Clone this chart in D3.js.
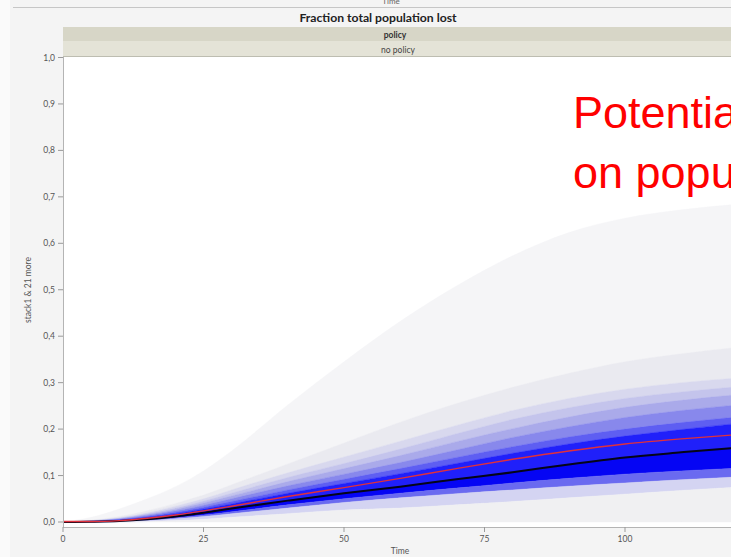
<!DOCTYPE html>
<html>
<head>
<meta charset="utf-8">
<script src="https://cdn.jsdelivr.net/npm/d3@7"></script>
<style>
  html, body { margin: 0; padding: 0; background: #f4f4f4; }
  svg { display: block; }
  text { font-family: Lato, "Open Sans", sans-serif; }
</style>
</head>
<body>
<svg id="chart" width="731" height="557"></svg>
<script>
// Simulation time points (shared by every percentile curve)
const times = [0, 5, 10, 15, 20, 25, 30, 40, 50, 60, 70, 80, 90, 100, 110, 120, 130];

// Fraction of total population lost: percentile envelopes, outermost first
const pMax = [0, 0.010, 0.028, 0.050, 0.076, 0.110, 0.153, 0.252, 0.345, 0.432, 0.508, 0.573, 0.623, 0.654, 0.672, 0.684, 0.690];
const pU2  = [0, 0.004, 0.012, 0.024, 0.040, 0.058, 0.080, 0.125, 0.170, 0.215, 0.255, 0.290, 0.320, 0.345, 0.362, 0.376, 0.385];
const pU3  = [0, 0.003, 0.009, 0.020, 0.034, 0.050, 0.069, 0.106, 0.140, 0.174, 0.208, 0.240, 0.266, 0.286, 0.300, 0.310, 0.317];
const pU4  = [0, 0.0025, 0.008, 0.018, 0.030, 0.045, 0.062, 0.096, 0.126, 0.157, 0.190, 0.221, 0.246, 0.266, 0.280, 0.291, 0.299];
const pU5  = [0, 0.002, 0.007, 0.016, 0.027, 0.041, 0.056, 0.087, 0.115, 0.143, 0.173, 0.201, 0.226, 0.247, 0.262, 0.274, 0.283];
const pU6  = [0, 0.002, 0.006, 0.014, 0.024, 0.036, 0.050, 0.078, 0.103, 0.128, 0.155, 0.182, 0.205, 0.225, 0.240, 0.252, 0.262];
const pU7  = [0, 0.0015, 0.005, 0.012, 0.021, 0.032, 0.044, 0.069, 0.092, 0.115, 0.139, 0.162, 0.183, 0.200, 0.214, 0.226, 0.236];
const pU8  = [0, 0.001, 0.004, 0.010, 0.018, 0.028, 0.039, 0.062, 0.083, 0.104, 0.126, 0.148, 0.168, 0.185, 0.199, 0.212, 0.222];
const median = [0, 0.0005, 0.002, 0.006, 0.012, 0.020, 0.029, 0.046, 0.062, 0.076, 0.092, 0.107, 0.124, 0.139, 0.150, 0.160, 0.168];
const pL0  = [0, 0, 0.0015, 0.004, 0.009, 0.015, 0.022, 0.037, 0.050, 0.062, 0.073, 0.084, 0.094, 0.103, 0.110, 0.116, 0.121];
const pL1  = [0, 0, 0.001, 0.003, 0.007, 0.012, 0.018, 0.030, 0.042, 0.052, 0.061, 0.069, 0.077, 0.084, 0.091, 0.097, 0.102];
const pL2  = [0, 0, 0, 0.001, 0.003, 0.006, 0.010, 0.018, 0.026, 0.030, 0.037, 0.044, 0.052, 0.060, 0.068, 0.075, 0.080];
const pMin = [0, 0, 0, 0, 0, 0, 0, 0, 0, 0, 0, 0, 0, 0, 0, 0, 0];
const mean = [0.001, 0.001, 0.003, 0.008, 0.015, 0.024, 0.034, 0.055, 0.074, 0.094, 0.115, 0.135, 0.153, 0.168, 0.179, 0.188, 0.195];

// Axis ticks
const xTicks = [0, 25, 50, 75, 100];
const yTicks = [0, 0.1, 0.2, 0.3, 0.4, 0.5, 0.6, 0.7, 0.8, 0.9, 1.0];
const yTickLabels = ["0,0", "0,1", "0,2", "0,3", "0,4", "0,5", "0,6", "0,7", "0,8", "0,9", "1,0"];

// Fan bands: [upper curve, lower curve, fill]
const bands = [
  [pMax, pU2, "#f5f5f7"],
  [pU2, pU3, "#eaeaf0"],
  [pU3, pU4, "#d8d8ee"],
  [pU4, pU5, "#c4c4ec"],
  [pU5, pU6, "#aaaaea"],
  [pU6, pU7, "#8888ec"],
  [pU7, pU8, "#5e5ef2"],
  [pU8, median, "#2020fa"],
  [median, pL0, "#0505f4"],
  [pL0, pL1, "#6a6af0"],
  [pL1, pL2, "#d4d4f2"],
  [pL2, pMin, "#f0f0f2"]
];

const svg = d3.select("#chart");
const W = 731, H = 557;
const plotLeft = 63, plotTop = 57, plotBottom = 527, plotRight = W;

const x = d3.scaleLinear().domain([0, 100]).range([63, 625]);
const y = d3.scaleLinear().domain([0, 1]).range([522, 57.5]);

// Page frame
svg.append("rect").attr("x", 0).attr("y", 0).attr("width", 10).attr("height", H).attr("fill", "#fafafa");

// Remnant of the panel above: its axis title and frame line
svg.append("text").attr("x", 391).attr("y", 4).attr("text-anchor", "middle")
  .attr("font-size", 8).attr("fill", "#666").text("Time");
svg.append("line").attr("x1", 13).attr("x2", W).attr("y1", 7.5).attr("y2", 7.5)
  .attr("stroke", "#c6c6c6").attr("stroke-width", 1);

// Title
svg.append("text").attr("x", 378).attr("y", 21.5).attr("text-anchor", "middle")
  .attr("font-size", 12.2).attr("font-weight", "bold").attr("fill", "#222")
  .text("Fraction total population lost");

// Group strips
svg.append("rect").attr("x", plotLeft).attr("y", 27).attr("width", W - plotLeft).attr("height", 14).attr("fill", "#d7d6c7");
svg.append("rect").attr("x", plotLeft).attr("y", 41).attr("width", W - plotLeft).attr("height", 15).attr("fill", "#e4e3d7");
svg.append("line").attr("x1", plotLeft).attr("x2", W).attr("y1", 56.5).attr("y2", 56.5).attr("stroke", "#bdbdb1");
svg.append("text").attr("x", 395).attr("y", 37.5).attr("text-anchor", "middle")
  .attr("font-size", 8.5).attr("font-weight", "bold").attr("fill", "#333").text("policy");
svg.append("text").attr("x", 398).attr("y", 52.5).attr("text-anchor", "middle")
  .attr("font-size", 8.5).attr("fill", "#444").text("no policy");

// Plot area
svg.append("rect").attr("x", plotLeft).attr("y", plotTop).attr("width", plotRight - plotLeft)
  .attr("height", plotBottom - plotTop).attr("fill", "#ffffff");

svg.append("defs").append("clipPath").attr("id", "plotClip")
  .append("rect").attr("x", plotLeft + 1).attr("y", plotTop).attr("width", plotRight - plotLeft)
  .attr("height", plotBottom - plotTop);

const plot = svg.append("g").attr("clip-path", "url(#plotClip)");

const idx = d3.range(times.length);
bands.forEach(([hi, lo, color]) => {
  const area = d3.area()
    .x(i => x(times[i]))
    .y0(i => y(lo[i]))
    .y1(i => y(hi[i]))
    .curve(d3.curveMonotoneX);
  plot.append("path").datum(idx).attr("d", area).attr("fill", color).attr("stroke", color).attr("stroke-width", 0.4);
});

const lineOf = arr => d3.line().x(i => x(times[i])).y(i => y(arr[i])).curve(d3.curveMonotoneX);
plot.append("path").datum(idx).attr("d", lineOf(median))
  .attr("fill", "none").attr("stroke", "#050518").attr("stroke-width", 2);
plot.append("path").datum(idx).attr("d", lineOf(mean))
  .attr("fill", "none").attr("stroke", "#e0303c").attr("stroke-width", 1.4);

// Y axis
const yAxis = svg.append("g");
yAxis.append("line").attr("x1", plotLeft + 0.5).attr("x2", plotLeft + 0.5).attr("y1", plotTop).attr("y2", plotBottom)
  .attr("stroke", "#b4b4b4");
yTicks.forEach((t, i) => {
  yAxis.append("line").attr("x1", 58).attr("x2", plotLeft).attr("y1", y(t)).attr("y2", y(t)).attr("stroke", "#9a9a9a");
  yAxis.append("text").attr("x", 55).attr("y", y(t) + 3).attr("text-anchor", "end")
    .attr("font-size", 8.5).attr("fill", "#555").text(yTickLabels[i]);
});
svg.append("text").attr("transform", "translate(31,290) rotate(-90)").attr("text-anchor", "middle")
  .attr("font-size", 8.5).attr("fill", "#555").text("stack1 & 21 more");

// X axis
const xAxis = svg.append("g");
xAxis.append("line").attr("x1", plotLeft).attr("x2", W).attr("y1", plotBottom + 0.5).attr("y2", plotBottom + 0.5)
  .attr("stroke", "#b4b4b4");
xTicks.forEach(t => {
  xAxis.append("line").attr("x1", x(t)).attr("x2", x(t)).attr("y1", plotBottom).attr("y2", plotBottom + 5).attr("stroke", "#9a9a9a");
  xAxis.append("text").attr("x", x(t)).attr("y", 542).attr("text-anchor", "middle")
    .attr("font-size", 8.5).attr("fill", "#555").text(t);
});
svg.append("text").attr("x", 400).attr("y", 554).attr("text-anchor", "middle")
  .attr("font-size", 8.5).attr("fill", "#555").text("Time");

// Slide annotation
const note = svg.append("g").attr("fill", "#ff0000");
note.append("text").attr("x", 573).attr("y", 128).attr("font-size", 45)
  .style("font-family", "'Liberation Sans', Arial, sans-serif").text("Potential");
note.append("text").attr("x", 573).attr("y", 188).attr("font-size", 45)
  .style("font-family", "'Liberation Sans', Arial, sans-serif").text("on population");
</script>
</body>
</html>
